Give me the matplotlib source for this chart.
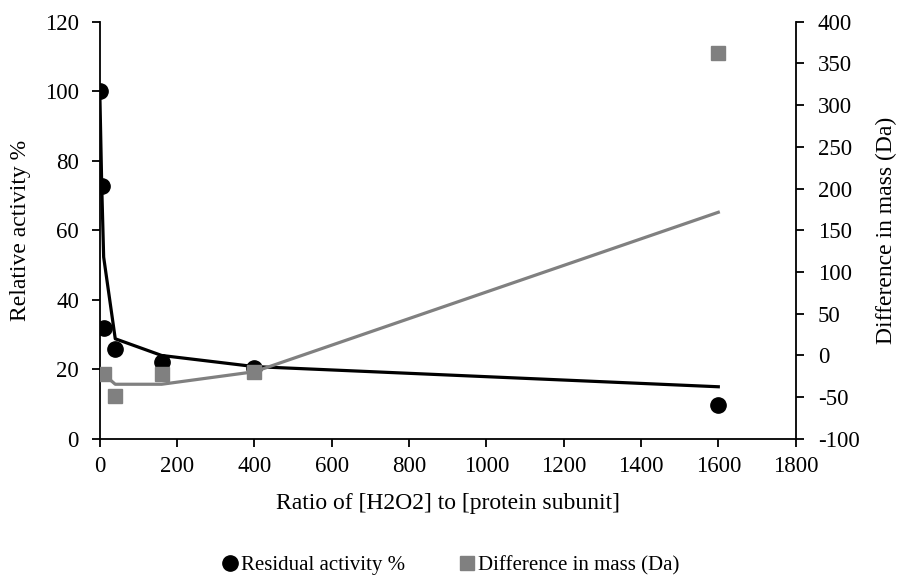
import matplotlib
matplotlib.use("Agg")
from matplotlib import pyplot as plt
from matplotlib.lines import Line2D

plt.rcParams['font.family'] = ['Liberation Serif', 'DejaVu Serif']
plt.rcParams['axes.unicode_minus'] = False

# ratio of [H2O2] to [protein subunit]
activity_x = [0, 5, 10, 40, 160, 400, 1600]
activity_y = [100, 72.8, 31.8, 25.8, 22.0, 20.5, 9.7]
activity_trend_x = [0, 5, 10, 40, 160, 400, 1600]
activity_trend_y = [100, 72.8, 52.3, 28.8, 24.0, 20.8, 15.0]

mass_x = [10, 40, 160, 400, 1600]
mass_y = [-22.4, -48.4, -22.4, -19.3, 362.5]
mass_trend_x = [10, 40, 160, 400, 1600]
mass_trend_y = [-22.4, -34.5, -34.5, -19.5, 171.6]

x_ticks = list(range(0, 1801, 200))
left_ticks = list(range(0, 121, 20))
right_ticks = list(range(-100, 401, 50))

black = "#000000"
grey = "#808080"
fs = 16.5

fig = plt.figure(figsize=(8.99, 5.86), dpi=100)
ax = fig.add_axes([0.111, 0.251, 0.774, 0.712])
ax2 = ax.twinx()

ax.plot(activity_trend_x, activity_trend_y, color=black, lw=2.3, zorder=2)
ax.plot(activity_x, activity_y, 'o', color=black, ms=11, zorder=3)

ax2.plot(mass_trend_x, mass_trend_y, color=grey, lw=2.3, zorder=2)
ax2.plot(mass_x, mass_y, 's', color=grey, ms=9.5, zorder=3)

ax.set_xlim(0, 1800)
ax.set_ylim(0, 120)
ax2.set_ylim(-100, 400)
ax.set_xticks(x_ticks)
ax.set_yticks(left_ticks)
ax2.set_yticks(right_ticks)

for a in (ax, ax2):
    a.spines['top'].set_visible(False)
    for s in a.spines.values():
        s.set_linewidth(1.3)
    a.tick_params(labelsize=fs, width=1.3, length=6, direction='out')
ax.spines['right'].set_visible(False)
ax2.spines['left'].set_visible(False)
ax2.spines['bottom'].set_visible(False)
ax.tick_params(axis='x', pad=6)
ax.tick_params(axis='y', pad=9)
ax2.tick_params(axis='y', pad=10)

ax.set_ylabel("Relative activity %", fontsize=fs + 0.5, labelpad=10)
ax2.set_ylabel("Difference in mass (Da)", fontsize=fs + 0.5, labelpad=12)
ax.set_xlabel("Ratio of [H2O2] to [protein subunit]", fontsize=fs + 0.5, labelpad=12)

handles = [
    Line2D([], [], ls='none', marker='o', color=black, ms=11),
    Line2D([], [], ls='none', marker='s', color=grey, ms=10),
]
fig.legend(handles, ["Residual activity %", "Difference in mass (Da)"],
           loc='center', bbox_to_anchor=(0.5, 0.035), ncol=2, frameon=False,
           fontsize=15, handletextpad=0.0, columnspacing=2.5, handlelength=1.0)

ax2.set_zorder(ax.get_zorder() + 1)
ax.patch.set_visible(True)
ax2.patch.set_visible(False)

fig.savefig("out.png", dpi=100)
